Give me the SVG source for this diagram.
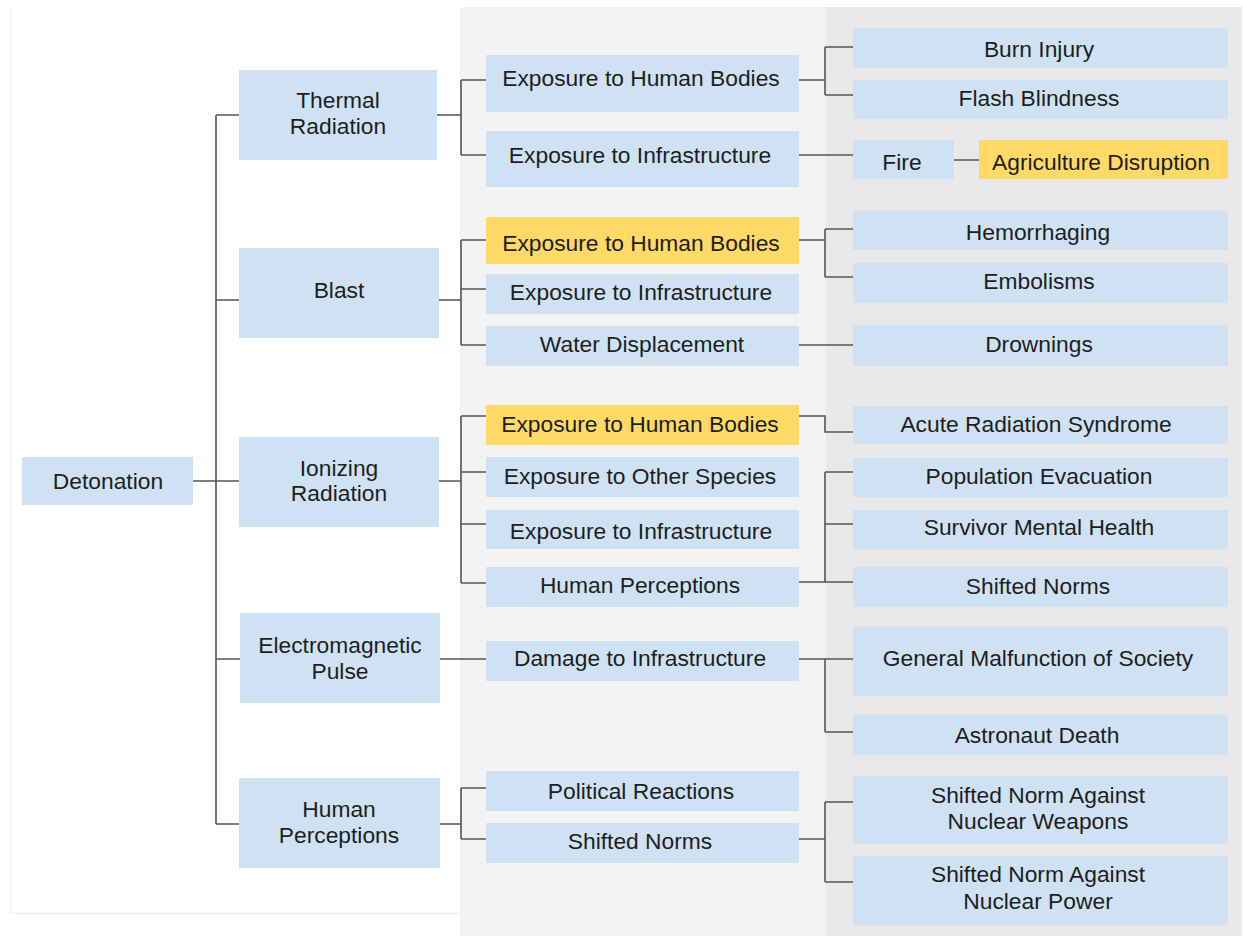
<svg xmlns="http://www.w3.org/2000/svg" width="1243" height="936" viewBox="0 0 1243 936">
<style>
.b{fill:#cfe2f3}
.y{fill:#ffd966}
text{font-family:"Liberation Sans",Arial,sans-serif;font-size:22.8px;fill:#1e1e1e;text-anchor:middle}
.c{fill:none;stroke:#555;stroke-width:1.6}
</style>
<rect width="1243" height="936" fill="#fff"/>
<path d="M10.5 7V913.5H460" fill="none" stroke="#f1f1f1" stroke-width="1.5"/>
<rect x="460" y="7" width="366" height="929" fill="#f3f3f3"/>
<rect x="826" y="7" width="416" height="929" fill="#e9e9e9"/>

<g id="connectors" class="c">
<path d="M193 481H216M216 115V824M216 115H239M216 300H239M216 481H239M216 659H240M216 824H239"/>
<path d="M437 115H461M461 80V155M461 80H486M461 155H486"/>
<path d="M799 80H825M825 47V95M825 47H853M825 95H853"/>
<path d="M799 155H853M954 160H979"/>
<path d="M439 300H461M461 240V345M461 240H486M461 289H486M461 345H486"/>
<path d="M799 240H825M825 229V277M825 229H853M825 277H853"/>
<path d="M799 345H853"/>
<path d="M439 481H461M461 416V583M461 416H486M461 472H486M461 524H486M461 583H486"/>
<path d="M799 416H825V432H853"/>
<path d="M799 582H825M825 472V582M825 472H853M825 524H853M825 582H853"/>
<path d="M440 659H486"/>
<path d="M799 659H825M825 659V732M825 659H853M825 732H853"/>
<path d="M440 824H461M461 788V839M461 788H486M461 839H486"/>
<path d="M799 839H825M825 802V882M825 802H853M825 882H853"/>
</g>

<g id="n-detonation"><rect class="b" x="22" y="457" width="171" height="48"/><text x="108" y="489">Detonation</text></g>
<g id="n-thermal"><rect class="b" x="239" y="70" width="198" height="90"/><text x="338" y="108">Thermal</text><text x="338" y="134">Radiation</text></g>
<g id="n-blast"><rect class="b" x="239" y="248" width="200" height="90"/><text x="339" y="298">Blast</text></g>
<g id="n-ionizing"><rect class="b" x="239" y="437" width="200" height="90"/><text x="339" y="476">Ionizing</text><text x="339" y="501">Radiation</text></g>
<g id="n-emp"><rect class="b" x="240" y="613" width="200" height="90"/><text x="340" y="653">Electromagnetic</text><text x="340" y="679">Pulse</text></g>
<g id="n-humanperc"><rect class="b" x="239" y="778" width="201" height="90"/><text x="339" y="817">Human</text><text x="339" y="843">Perceptions</text></g>

<g id="n-t-body"><rect class="b" x="486" y="55" width="313" height="57"/><text x="641" y="86">Exposure to Human Bodies</text></g>
<g id="n-t-infra"><rect class="b" x="486" y="131" width="313" height="56"/><text x="640" y="163">Exposure to Infrastructure</text></g>
<g id="n-b-body"><rect class="y" x="486" y="217" width="313" height="47"/><text x="641" y="251">Exposure to Human Bodies</text></g>
<g id="n-b-infra"><rect class="b" x="486" y="274" width="313" height="40"/><text x="641" y="300">Exposure to Infrastructure</text></g>
<g id="n-b-water"><rect class="b" x="486" y="326" width="313" height="40"/><text x="642" y="352">Water Displacement</text></g>
<g id="n-i-body"><rect class="y" x="486" y="405" width="313" height="40"/><text x="640" y="432">Exposure to Human Bodies</text></g>
<g id="n-i-species"><rect class="b" x="486" y="457" width="313" height="40"/><text x="640" y="484">Exposure to Other Species</text></g>
<g id="n-i-infra"><rect class="b" x="486" y="510" width="313" height="39"/><text x="641" y="539">Exposure to Infrastructure</text></g>
<g id="n-i-perc"><rect class="b" x="486" y="567" width="313" height="40"/><text x="640" y="593">Human Perceptions</text></g>
<g id="n-e-damage"><rect class="b" x="486" y="641" width="313" height="40"/><text x="640" y="666">Damage to Infrastructure</text></g>
<g id="n-h-political"><rect class="b" x="486" y="771" width="313" height="40"/><text x="641" y="799">Political Reactions</text></g>
<g id="n-h-norms"><rect class="b" x="486" y="823" width="313" height="40"/><text x="640" y="849">Shifted Norms</text></g>

<g id="n-burn"><rect class="b" x="853" y="28" width="375" height="40"/><text x="1039" y="57">Burn Injury</text></g>
<g id="n-flash"><rect class="b" x="853" y="80" width="375" height="39"/><text x="1039" y="106">Flash Blindness</text></g>
<g id="n-fire"><rect class="b" x="853" y="140" width="101" height="39"/><text x="902" y="170">Fire</text></g>
<g id="n-agri"><rect class="y" x="979" y="140" width="249" height="39"/><text x="1101" y="170">Agriculture Disruption</text></g>
<g id="n-hemo"><rect class="b" x="853" y="211" width="375" height="39"/><text x="1038" y="240">Hemorrhaging</text></g>
<g id="n-embol"><rect class="b" x="853" y="263" width="375" height="40"/><text x="1039" y="289">Embolisms</text></g>
<g id="n-drown"><rect class="b" x="853" y="325" width="375" height="41"/><text x="1039" y="352">Drownings</text></g>
<g id="n-ars"><rect class="b" x="853" y="406" width="375" height="38"/><text x="1036" y="432">Acute Radiation Syndrome</text></g>
<g id="n-evac"><rect class="b" x="853" y="458" width="375" height="39"/><text x="1039" y="484">Population Evacuation</text></g>
<g id="n-mental"><rect class="b" x="853" y="510" width="375" height="39"/><text x="1039" y="535">Survivor Mental Health</text></g>
<g id="n-norms-r"><rect class="b" x="853" y="567" width="375" height="40"/><text x="1038" y="594">Shifted Norms</text></g>
<g id="n-society"><rect class="b" x="853" y="627" width="375" height="69"/><text x="1038" y="666">General Malfunction of Society</text></g>
<g id="n-astro"><rect class="b" x="853" y="715" width="375" height="40"/><text x="1037" y="743">Astronaut Death</text></g>
<g id="n-weapons"><rect class="b" x="853" y="776" width="375" height="68"/><text x="1038" y="803">Shifted Norm Against</text><text x="1038" y="829">Nuclear Weapons</text></g>
<g id="n-power"><rect class="b" x="853" y="856" width="375" height="69"/><text x="1038" y="882">Shifted Norm Against</text><text x="1038" y="909">Nuclear Power</text></g>
</svg>
